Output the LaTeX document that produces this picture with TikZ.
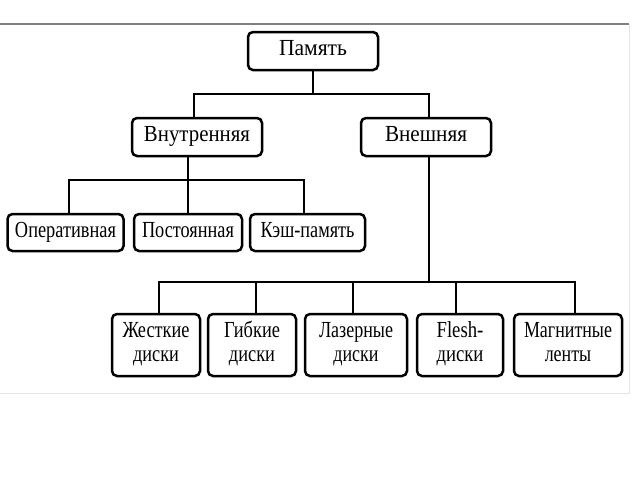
\documentclass[tikz,border=0pt]{standalone}
\usepackage{fontspec}
\setmainfont{Liberation Serif}
\usepackage{graphicx}
\newcommand{\tw}[2]{\resizebox{#1}{\height}{\begin{tabular}{@{}c@{}}#2\end{tabular}}}
\begin{document}
\begin{tikzpicture}[x=1pt,y=-1pt,
  box/.style={draw=black, line width=2.5pt, rounded corners=5pt, inner sep=0pt,
    font=\fontsize{23}{24}\selectfont, text=black},
  wire/.style={draw=black, line width=2.5pt}]
\useasboundingbox (0,0) rectangle (640,480);
\fill[white] (0,0) rectangle (640,480);
% frame
\draw[line width=2pt, color=black!50] (0,24) -- (629,24);
\draw[line width=1pt, color=black!10] (629,24) -- (629,393) -- (0,393);
% nodes
\node[box, minimum width=130pt, minimum height=38pt] (mem) at (313,51) {\tw{68pt}{Память}};
\node[box, minimum width=130pt, minimum height=38pt] (vn) at (197,137) {\tw{106pt}{Внутренняя}};
\node[box, minimum width=130pt, minimum height=38pt] (ex) at (426,137) {\tw{82pt}{Внешняя}};
\node[box, minimum width=116pt, minimum height=37pt] (op) at (65.5,232.5) {\tw{101pt}{Оперативная}};
\node[box, minimum width=108pt, minimum height=37pt] (pos) at (188,232.5) {\tw{92pt}{Постоянная}};
\node[box, minimum width=115pt, minimum height=37pt] (kesh) at (307.5,232.5) {\tw{94pt}{Кэш-память}};
\node[box, minimum width=88pt, minimum height=62pt] (d1) at (156,345) {\tw{67pt}{Жесткие\\диски}};
\node[box, minimum width=88pt, minimum height=62pt] (d2) at (252,345) {\tw{56pt}{Гибкие\\диски}};
\node[box, minimum width=102pt, minimum height=62pt] (d3) at (356,345) {\tw{74pt}{Лазерные\\диски}};
\node[box, minimum width=86pt, minimum height=62pt] (d4) at (460,345) {\tw{47pt}{Flesh-\\диски}};
\node[box, minimum width=108pt, minimum height=62pt] (d5) at (568,345) {\tw{88pt}{Магнитные\\ленты}};
% bus points
\coordinate (b1) at (313,94);
\coordinate (b2) at (188,180);
\coordinate (b3) at (429,282);
% connectors
\draw[wire] (mem.south) -- (b1);
\draw[wire] ([xshift=-3pt]vn.north) |- (b1) -| ([xshift=3pt]ex.north);
\draw[wire] ([xshift=-9pt]vn.south) -- (b2);
\draw[wire] ([xshift=3.5pt]op.north) |- (b2) -| ([xshift=-3.5pt]kesh.north);
\draw[wire] (pos.north) -- (b2);
\draw[wire] ([xshift=3pt]ex.south) -- (b3);
\draw[wire] ([xshift=3pt]d1.north) |- (b3) -| ([xshift=7pt]d5.north);
\draw[wire] ([xshift=4pt]d2.north) -- ([xshift=4pt]d2.north |- b3);
\draw[wire] ([xshift=-3pt]d3.north) -- ([xshift=-3pt]d3.north |- b3);
\draw[wire] ([xshift=-4pt]d4.north) -- ([xshift=-4pt]d4.north |- b3);
\end{tikzpicture}
\end{document}
